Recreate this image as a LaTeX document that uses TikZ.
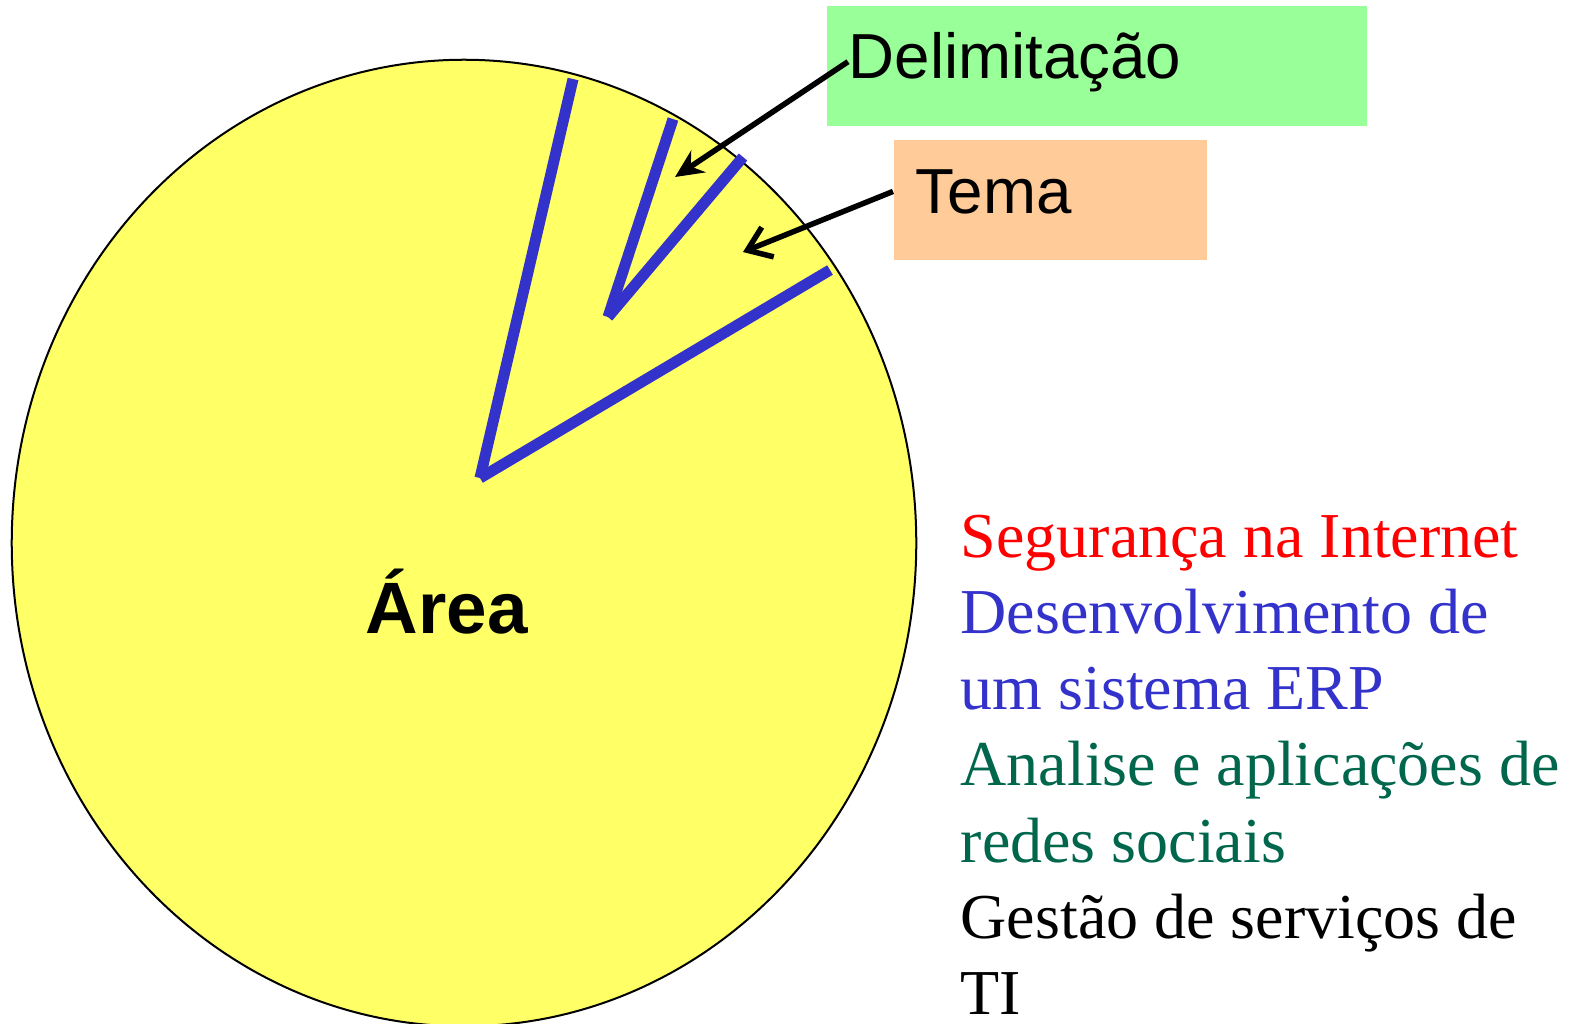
\documentclass[tikz,border=0pt]{standalone}
\usepackage{fontspec}
\setmainfont{Liberation Serif}
\setsansfont{Liberation Sans}
\usepackage{tikz}
\usetikzlibrary{arrows.meta,positioning}
\usepackage{xcolor}
\definecolor{areayellow}{RGB}{255,255,102}
\definecolor{sliceblue}{RGB}{51,51,204}
\definecolor{delimgreen}{RGB}{153,255,153}
\definecolor{temaorange}{RGB}{255,204,153}
\definecolor{topicred}{RGB}{255,0,0}
\definecolor{topicgreen}{RGB}{0,102,76}

\begin{document}
\begin{tikzpicture}[x=0.01cm, y=-0.01cm,
    slice/.style={draw=sliceblue, line width=0.11cm},
    labelbox/.style={rectangle, inner sep=0pt},
    labeltext/.style={inner sep=0pt, font=\sffamily\fontsize{18.1pt}{21.7pt}\selectfont},
    pointer/.style={line width=0.055cm},
    topic/.style={inner sep=0pt, anchor=base west, font=\rmfamily\fontsize{18.2pt}{21.8pt}\selectfont}]
    \useasboundingbox (0,0) rectangle (1571,1023);

    % the area
    \draw[fill=areayellow, line width=0.02cm] (464,543) ellipse [x radius=4.52cm, y radius=4.83cm];
    \node[inner sep=0pt, anchor=base west, font=\sffamily\bfseries\fontsize{20.7pt}{24pt}\selectfont] (area) at (365,633) {Área};

    % theme and delimitation slices
    \coordinate (apex) at (480,478);
    \coordinate (temaleft) at (573,79);
    \coordinate (temaright) at (830,270);
    \coordinate (delimapex) at (608,317);
    \coordinate (delimleft) at (673,119);
    \coordinate (delimright) at (743,157);
    \draw[slice] (apex) -- (temaleft);
    \draw[slice] (apex) -- (temaright);
    \draw[slice] (delimapex) -- (delimleft);
    \draw[slice] (delimapex) -- (delimright);

    % labels
    \node[labelbox, fill=delimgreen, minimum width=5.40cm, minimum height=1.20cm] (delimbox) at (1097,66) {};
    \node[labelbox, fill=temaorange, minimum width=3.13cm, minimum height=1.20cm] (temabox) at (1050.5,200) {};
    \node[labeltext, anchor=base west] (delim) at (848,78) {Delimitação};
    \node[labeltext, inner xsep=0.22cm, anchor=base west] (tema) at (893,213) {Tema};

    \coordinate (delimtip) at (675,177);
    \coordinate (tematip) at (743,252);
    \draw[pointer, -{Stealth[length=0.28cm, width=0.26cm]}] (delim.west) -- (delimtip);
    \draw[pointer, -{Straight Barb[length=0.22cm, width=0.32cm]}] (tema.west) -- (tematip);

    % examples
    \foreach \txt/\col [count=\i from 0] in {Segurança na Internet/topicred,
        Desenvolvimento de/sliceblue, um sistema ERP/sliceblue,
        Analise e aplicações de/topicgreen, redes sociais/topicgreen,
        Gestão de serviços de/black, TI/black}
        \node[topic, text=\col] (topic\i) at (960,{557+76.3*\i}) {\txt};
\end{tikzpicture}
\end{document}
